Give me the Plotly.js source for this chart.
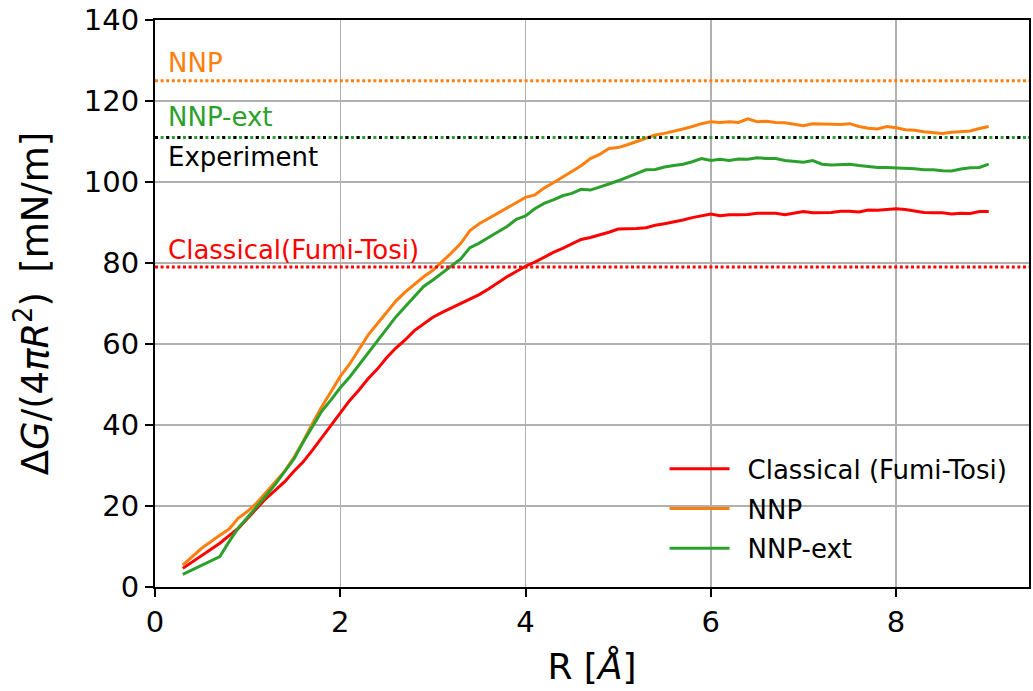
<!DOCTYPE html>
<html>
<head>
<meta charset="utf-8">
<script src="https://cdn.plot.ly/plotly-3.0.1.min.js"></script>
<style>html,body{margin:0;padding:0;background:#fff;}#chart{width:1033px;height:691px;}</style>
</head>
<body>
<div id="chart"></div>
<script>
const R = [0.3,0.5,0.7,0.8,0.9,1.0,1.1,1.2,1.3,1.4,1.5,1.6,1.7,1.8,1.9,2.0,2.1,2.2,2.3,2.4,2.5,2.6,2.7,2.8,2.9,3.0,3.1,3.2,3.3,3.4,3.5,3.6,3.7,3.8,3.9,4.0,4.1,4.2,4.3,4.4,4.5,4.6,4.7,4.8,4.9,5.0,5.1,5.2,5.3,5.4,5.5,5.6,5.7,5.8,5.9,6.0,6.1,6.2,6.3,6.4,6.5,6.6,6.7,6.8,6.9,7.0,7.1,7.2,7.3,7.4,7.5,7.6,7.7,7.8,7.9,8.0,8.1,8.2,8.3,8.4,8.5,8.6,8.7,8.8,8.9,9.0];

const classical = [4.6,7.7,10.8,12.7,14.5,17.0,19.4,21.9,23.9,26.0,28.6,30.9,33.8,36.9,40.0,43.2,46.0,48.6,51.4,53.8,56.6,59.0,61.0,63.3,65.0,66.6,67.8,68.9,70.0,71.1,72.2,73.6,75.2,76.6,77.9,79.2,80.2,81.5,82.6,83.6,84.8,85.8,86.3,86.9,87.6,88.4,88.4,88.5,88.7,89.3,89.7,90.1,90.6,91.2,91.7,92.1,91.7,91.9,91.9,92.0,92.3,92.3,92.3,91.9,92.3,92.7,92.4,92.4,92.5,92.8,92.8,92.6,93.1,93.0,93.2,93.4,93.2,92.9,92.5,92.4,92.4,92.1,92.3,92.2,92.7,92.7];

const nnp = [5.4,9.5,12.8,14.3,17.0,18.7,20.8,23.4,25.8,28.6,32.0,36.0,40.4,44.5,48.2,52.0,55.0,58.5,62.2,65.0,67.8,70.6,72.8,74.8,76.6,78.2,80.3,82.5,84.8,88.0,89.7,91.0,92.3,93.6,95.0,96.2,96.8,98.5,99.8,101.2,102.6,104.0,105.8,106.8,108.3,108.5,109.2,110.0,110.7,111.6,112.0,112.5,113.1,113.7,114.4,114.9,114.7,114.9,114.7,115.6,114.9,115.0,114.7,114.6,114.3,113.9,114.4,114.3,114.2,114.2,114.4,113.7,113.3,113.1,113.7,113.4,112.9,112.8,112.4,112.2,112.0,112.3,112.4,112.6,113.2,113.7];

const nnpExt = [3.1,5.3,7.5,11.2,14.6,17.2,19.8,22.6,25.4,28.6,31.6,35.8,39.6,43.4,46.2,49.2,51.8,54.8,57.8,60.5,63.8,66.7,69.2,71.8,74.2,75.8,77.6,79.3,81.0,83.8,84.9,86.3,87.6,89.0,90.8,91.6,93.4,94.7,95.6,96.6,97.2,98.2,98.0,98.7,99.5,100.3,101.2,102.0,103.0,103.1,103.7,104.1,104.4,105.0,105.8,105.3,105.6,105.3,105.7,105.6,106.0,105.8,105.8,105.3,105.1,104.9,105.3,104.4,104.2,104.3,104.4,104.1,103.8,103.6,103.6,103.5,103.5,103.3,103.0,103.0,102.8,102.7,103.2,103.5,103.6,104.4];

const refNames = ["NNP", "NNP-ext", "Experiment", "Classical(Fumi-Tosi)"];
const refValues = [125, 111, 111, 79];
const refColors = ["#ff7f0e", "#2ca02c", "#000000", "#ff0000"];
const refDash = ["3px,2.6px", "3px,2.6px", "3px,8.2px", "3px,2.6px"];
const refLabelY = [129.4, 116.0, 106.2, 83.2];

const seriesNames = ["Classical (Fumi-Tosi)", "NNP", "NNP-ext"];
const seriesColors = ["#ff0000", "#ff7f0e", "#2ca02c"];
const seriesData = [classical, nnp, nnpExt];

const font = "DejaVu Sans, sans-serif";

const traces = seriesData.map((d, i) => ({
  x: R, y: d, type: "scatter", mode: "lines", name: "\u2002" + seriesNames[i],
  legendgroup: "g" + i,
  line: {color: seriesColors[i], width: 3}
}));

const shapes = refValues.map((v, i) => ({
  type: "line", xref: "paper", x0: 0, x1: 1, yref: "y", y0: v, y1: v,
  line: {color: refColors[i], width: 3, dash: refDash[i]}, layer: "above"
}));

const annotations = refNames.map((n, i) => ({
  text: n, x: 0.12, y: refLabelY[i], xref: "x", yref: "y",
  xanchor: "left", yanchor: "middle", showarrow: false,
  font: {family: font, size: 26, color: refColors[i]}
}));

const axisCommon = {
  showline: true, linecolor: "#000", linewidth: 2, mirror: true,
  ticks: "outside", ticklen: 8, tickwidth: 2, tickcolor: "#000",
  showgrid: true, gridcolor: "#b0b0b0", gridwidth: 1.5, zeroline: false,
  tickfont: {family: font, size: 29, color: "#000"}
};

const layout = {
  width: 1033, height: 691,
  margin: {l: 155, r: 4, t: 20, b: 104},
  paper_bgcolor: "#fff", plot_bgcolor: "#fff",
  showlegend: true,
  legend: {x: 0.583, y: 0.25, xanchor: "left", yanchor: "top",
    bgcolor: "rgba(0,0,0,0)", font: {family: font, size: 26, color: "#000"},
    traceorder: "grouped", tracegroupgap: 3, itemwidth: 60},
  xaxis: Object.assign({}, axisCommon, {
    range: [0, 9.435], tickvals: [0, 2, 4, 6, 8], ticktext: ["0", "2", "4", "6", "8"],
    title: {text: "R [<i>Å</i>]", font: {family: font, size: 36, color: "#000"}, standoff: 16}
  }),
  yaxis: Object.assign({}, axisCommon, {
    range: [0, 140], tickvals: [0, 20, 40, 60, 80, 100, 120, 140],
    title: {text: "Δ<i>G</i>/(4<i>πR</i><sup>2</sup>)\u2009 [mN/m]", font: {family: font, size: 37, color: "#000"}, standoff: 24}
  }),
  shapes: shapes,
  annotations: annotations
};

Plotly.newPlot("chart", traces, layout, {displayModeBar: false, staticPlot: true});
</script>
</body>
</html>
